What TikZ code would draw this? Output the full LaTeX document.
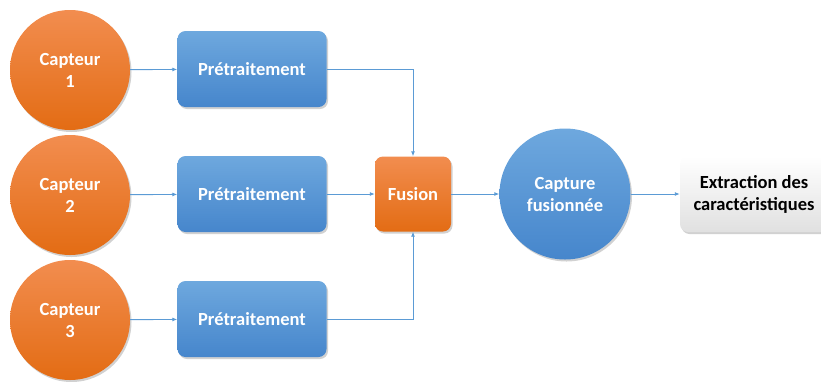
\documentclass[tikz,border=0pt]{standalone}
\usepackage{fontspec}
\setmainfont{Carlito}
\usetikzlibrary{arrows.meta,shadows,positioning}
\definecolor{orTop}{HTML}{F28D4F}
\definecolor{orBot}{HTML}{E36C14}
\definecolor{blTop}{HTML}{6EA8DE}
\definecolor{blBot}{HTML}{4686CC}
\definecolor{lineBlue}{HTML}{5B9BD5}
\tikzset{
  softshadow/.style={drop shadow={shadow xshift=1.5pt,shadow yshift=-2pt,opacity=0.3,fill=black!60}},
  labelfont/.style={font=\bfseries\fontsize{18.5}{22}\selectfont},
  sensor/.style={circle,minimum size=120pt,inner sep=0pt,top color=orTop,bottom color=orBot,
    draw=none,text=white,labelfont,align=center,softshadow},
  prebox/.style={rectangle,rounded corners=8pt,minimum width=149pt,minimum height=76pt,
    top color=blTop,bottom color=blBot,draw=none,text=white,labelfont,softshadow},
  fusebox/.style={rectangle,rounded corners=8pt,minimum width=76pt,minimum height=75pt,
    top color=orTop,bottom color=orBot,draw=none,text=white,labelfont,softshadow},
  bigcirc/.style={circle,minimum size=131pt,inner sep=0pt,top color=blTop,bottom color=blBot,
    draw=none,text=white,labelfont,align=center,softshadow},
  outbox/.style={rectangle,rounded corners=8pt,minimum width=148pt,minimum height=76pt,
    inner sep=0pt,top color=white,bottom color=black!12,draw=none,text=black,align=center,
    labelfont,softshadow},
  link/.style={draw=lineBlue,line width=0.9pt,-{Latex[length=5pt,width=4pt]}}
}
\begin{document}
\begin{tikzpicture}[x=1pt,y=-1pt]
  \useasboundingbox (0,0) rectangle (821,381);
  % sensors
  \node[sensor] (c1) at (70,70) {Capteur\\1};
  \node[sensor] (c2) at (70,195) {Capteur\\2};
  \node[sensor] (c3) at (70,320) {Capteur\\3};
  % preprocessing
  \node[prebox] (p1) at (252,69) {Prétraitement};
  \node[prebox] (p2) at (252,194) {Prétraitement};
  \node[prebox] (p3) at (252,319) {Prétraitement};
  % fusion and result
  \node[fusebox] (f) at (413,194) {Fusion};
  \node[bigcirc] (cf) at (565,194) {Capture\\fusionnée};
  \node[outbox] (ex) at (754,194) {Extraction des\\caractéristiques};
  % connectors
  \draw[link] (c1) -- (p1);
  \draw[link] (c2) -- (p2);
  \draw[link] (c3) -- (p3);
  \draw[link] (p1.east) -| (f.north);
  \draw[link] (p2) -- (f);
  \draw[link] (p3.east) -| (f.south);
  \draw[link] (f) -- (cf);
  \draw[link] (cf) -- (ex);
\end{tikzpicture}
\end{document}
